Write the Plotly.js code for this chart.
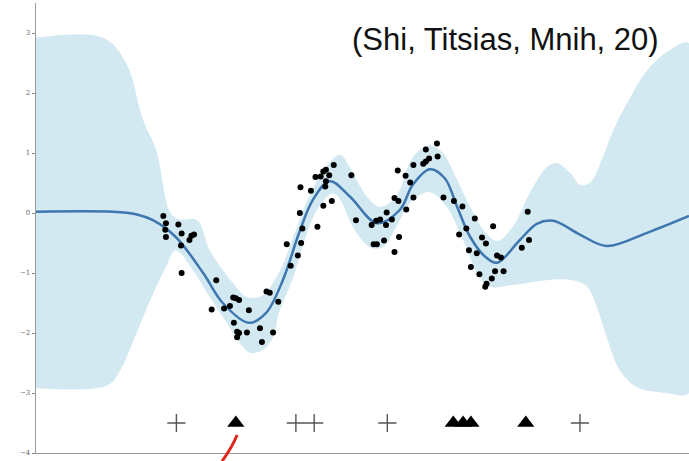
<!DOCTYPE html>
<html>
<head>
<meta charset="utf-8">
<script src="https://cdn.plot.ly/plotly-3.0.1.min.js"></script>
<style>html,body{margin:0;padding:0;background:#fff;}#chart{width:689px;height:461px;}</style>
</head>
<body>
<div id="chart"></div>
<script>
// Posterior mean curve
var meanX = [0.00, 1.18, 1.53, 1.79, 2.14, 2.56, 2.86, 3.26, 3.52, 3.78, 4.03, 4.24, 4.50, 4.81, 5.22, 5.57, 5.77, 6.03, 6.26, 6.45, 6.65, 6.88, 7.06, 7.41, 7.67, 7.92, 8.33, 8.74, 9.36, 10.0];
var meanY = [0.02, 0.02, -0.02, -0.12, -0.40, -1.00, -1.50, -1.83, -1.67, -1.12, -0.33, 0.22, 0.53, 0.27, -0.17, 0.05, 0.47, 0.73, 0.58, 0.10, -0.40, -0.73, -0.83, -0.45, -0.18, -0.13, -0.36, -0.55, -0.33, -0.05];

// Upper edge of uncertainty band
var upperX = [0, 1.03, 1.38, 1.64, 1.84, 2.05, 2.17, 2.47, 2.66, 3.02, 3.23, 3.46, 3.74, 3.94, 4.18, 4.44, 4.66, 4.81, 5.07, 5.27, 5.47, 5.57, 5.77, 6.03, 6.23, 6.45, 6.65, 6.85, 7.06, 7.30, 7.56, 7.83, 7.98, 8.18, 8.33, 8.48, 8.68, 8.84, 9.05, 9.36, 9.71, 10.0];
var upperY = [2.92, 2.92, 2.50, 1.55, 1.05, 0.02, -0.10, -0.12, -0.62, -1.17, -1.40, -1.38, -0.95, -0.40, 0.27, 0.77, 0.97, 0.75, 0.27, 0.10, 0.22, 0.38, 0.93, 1.13, 1.00, 0.55, 0.10, -0.28, -0.47, -0.23, 0.33, 0.77, 0.83, 0.67, 0.47, 0.50, 0.93, 1.38, 1.83, 2.38, 2.72, 2.83];

// Lower edge of uncertainty band
var lowerX = [0, 1.10, 1.29, 1.53, 1.75, 1.98, 2.14, 2.40, 2.66, 2.92, 3.12, 3.28, 3.48, 3.63, 3.72, 3.94, 4.13, 4.33, 4.55, 4.66, 4.85, 5.11, 5.31, 5.57, 5.77, 6.03, 6.29, 6.54, 6.77, 6.95, 7.30, 7.83, 8.22, 8.44, 8.59, 8.74, 8.94, 9.20, 9.66, 10.0];
var lowerY = [-2.92, -2.87, -2.62, -2.03, -1.45, -0.92, -0.62, -0.95, -1.40, -1.83, -2.17, -2.33, -2.28, -2.07, -1.67, -1.07, -0.40, 0.10, 0.33, 0.22, -0.23, -0.57, -0.57, -0.12, 0.22, 0.35, 0.10, -0.45, -1.03, -1.23, -1.20, -1.12, -1.12, -1.23, -1.57, -2.07, -2.62, -2.90, -3.00, -3.00];

// Observations
var obsX = [1.95, 1.99, 1.98, 1.99, 2.18, 2.23, 2.22, 2.35, 2.38, 2.42, 2.23, 2.76, 2.69, 2.88, 2.97, 3.02, 3.06, 3.11, 3.26, 3.03, 3.08, 3.11, 3.08, 3.23, 3.43, 3.46, 3.63, 3.53, 3.58, 3.71, 3.90, 3.84, 4.01, 4.06, 4.08, 4.04, 4.05, 4.21, 4.31, 4.40, 4.53, 4.43, 4.28, 4.36, 4.40, 4.44, 4.49, 4.44, 4.56, 4.83, 4.90, 5.14, 5.21, 5.27, 5.36, 5.37, 5.45, 5.17, 5.22, 5.33, 5.49, 5.56, 5.49, 5.55, 5.67, 5.78, 5.66, 5.73, 5.54, 5.78, 5.93, 5.97, 6.02, 5.97, 6.14, 6.15, 6.24, 6.40, 6.53, 6.72, 6.48, 6.59, 7.00, 6.63, 6.83, 6.89, 6.75, 6.66, 6.79, 7.06, 7.12, 7.03, 7.16, 6.98, 6.90, 6.88, 7.44, 7.55, 7.53];
var obsY = [-0.05, -0.17, -0.28, -0.40, -0.19, -0.34, -0.54, -0.45, -0.38, -0.36, -1.00, -1.12, -1.61, -1.59, -1.55, -1.41, -1.42, -1.45, -1.62, -1.83, -1.98, -2.00, -2.07, -1.99, -1.92, -2.15, -1.99, -1.31, -1.33, -1.48, -0.88, -0.52, -0.71, -0.50, -0.26, 0.00, 0.43, 0.37, -0.23, 0.12, 0.20, 0.44, 0.60, 0.61, 0.69, 0.72, 0.63, 0.53, 0.80, 0.63, -0.12, -0.20, -0.13, -0.11, -0.20, 0.01, -0.11, -0.52, -0.52, -0.46, -0.65, -0.40, 0.25, 0.20, 0.06, 0.26, 0.62, 0.51, 0.71, 0.80, 0.82, 0.86, 0.91, 1.06, 1.16, 0.94, 0.26, 0.20, 0.11, -0.09, -0.36, -0.26, -0.22, -0.62, -0.41, -0.51, -0.67, -0.90, -1.02, -0.71, -0.74, -0.97, -0.97, -1.09, -1.18, -1.23, -0.58, -0.45, 0.02];

// Inducing-point markers along the bottom
var markerRowY = -3.5;
var plusX = [2.15, 3.98, 4.26, 5.38, 8.33];
var triX = [3.06, 6.39, 6.54, 6.66, 7.50];

var yTicks = [-4, -3, -2, -1, 0, 1, 2, 3];
var titleText = "(Shi, Titsias, Mnih, 20)";

var bandX = upperX.concat(lowerX.slice().reverse());
var bandY = upperY.concat(lowerY.slice().reverse());

var traces = [
  {x: bandX, y: bandY, type: 'scatter', mode: 'lines', fill: 'toself',
   fillcolor: '#d3e9f1', line: {width: 0, shape: 'spline', smoothing: 1}, hoverinfo: 'skip'},
  {x: meanX, y: meanY, type: 'scatter', mode: 'lines',
   line: {color: '#3e76b0', width: 2.5, shape: 'spline', smoothing: 1}},
  {x: obsX, y: obsY, type: 'scatter', mode: 'markers',
   marker: {color: '#000', size: 6}},
  {x: plusX, y: plusX.map(function(){return markerRowY;}), type: 'scatter', mode: 'markers',
   marker: {symbol: 'cross-thin', size: 13, line: {color: '#555', width: 1.4}}},
  {x: triX, y: triX.map(function(){return markerRowY;}), type: 'scatter', mode: 'markers',
   marker: {symbol: 'triangle-up', size: 15, color: '#000'}}
];

var layout = {
  width: 689, height: 461,
  margin: {l: 36, r: 0, t: 3, b: 8, pad: 0},
  paper_bgcolor: '#fff', plot_bgcolor: '#fff',
  showlegend: false,
  xaxis: {range: [0, 10], showgrid: false, zeroline: false, showticklabels: false,
          ticks: '', showline: true, linecolor: '#999', linewidth: 1.3},
  yaxis: {range: [-4, 3.5], tickvals: yTicks, showgrid: false, zeroline: false,
          ticks: 'outside', ticklen: 3, tickcolor: '#888', tickwidth: 1,
          showline: true, linecolor: '#999', linewidth: 1.3,
          tickfont: {family: 'DejaVu Serif, serif', size: 7, color: '#666'}},
  annotations: [{text: titleText, xref: 'paper', yref: 'paper', x: 0.957, y: 0.918,
                 xanchor: 'right', yanchor: 'middle', showarrow: false,
                 font: {family: 'Liberation Sans, Arial, sans-serif', size: 31, color: '#111'}}],
  shapes: [{type: 'path', xref: 'paper', yref: 'paper',
            path: 'M 0.308,0.040 Q 0.300,0.012 0.285,-0.018',
            line: {color: '#e3261b', width: 3}}]
};

Plotly.newPlot('chart', traces, layout, {displayModeBar: false, staticPlot: true});
</script>
</body>
</html>
